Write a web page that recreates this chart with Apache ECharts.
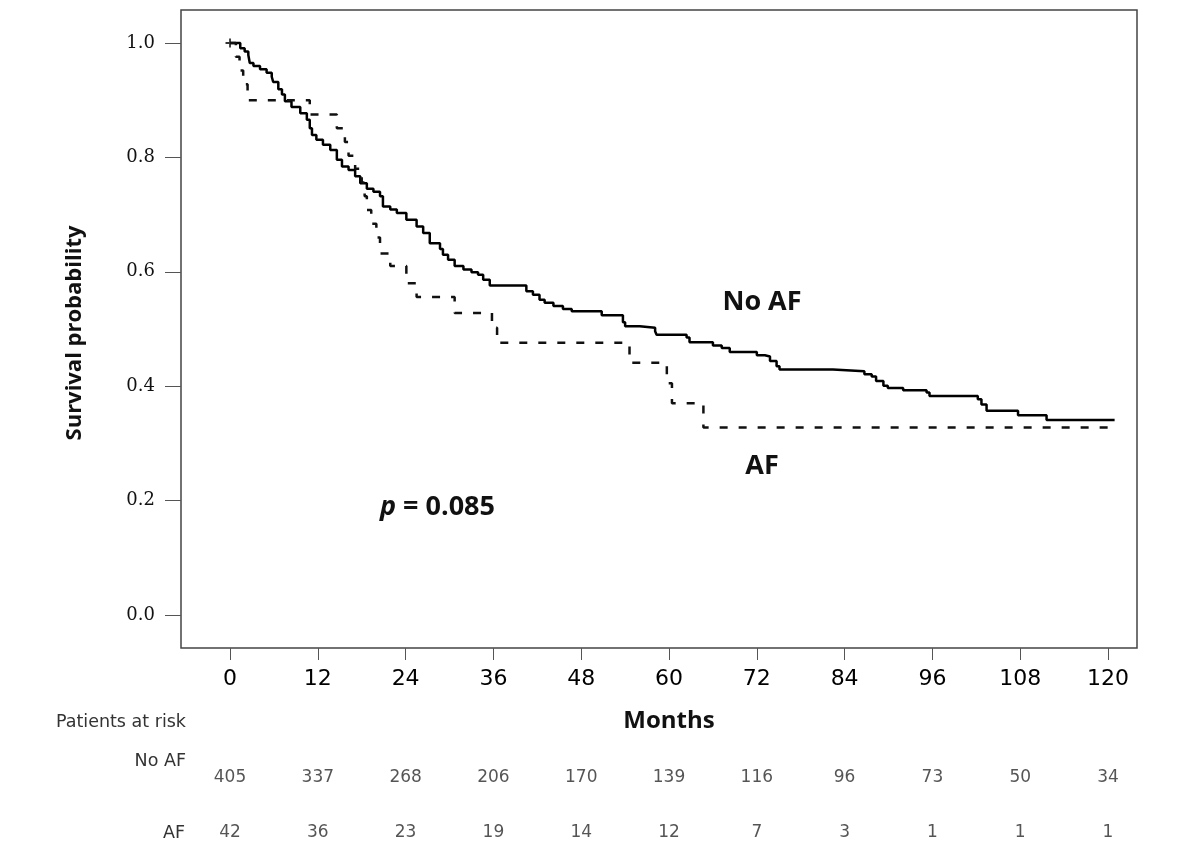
<!DOCTYPE html>
<html>
<head>
<meta charset="utf-8">
<script src="https://cdn.jsdelivr.net/npm/echarts@6/dist/echarts.min.js"></script>
<style>
  html, body { margin: 0; background: #fff; }
  #chart { width: 1200px; height: 848px; }
</style>
</head>
<body>
<div id="chart"></div>
<script>
// Kaplan-Meier steps: month of each drop, survival after it
const noAfMonths = [0, 1.4, 2.0, 2.5, 2.7, 3.2, 4.1, 5.0, 5.7, 5.9, 6.6, 7.1, 7.5, 8.4, 9.6, 10.5, 10.9, 11.2, 11.8, 12.7,
  13.7, 14.6, 15.3, 16.2, 17.1, 17.8, 18.7, 19.6, 20.5, 20.9, 21.9, 22.8, 24.1, 25.5, 26.4, 27.3, 28.7, 29.1, 29.8, 30.7,
  31.9, 33.0, 33.9, 34.6, 35.5, 40.5, 41.4, 42.3, 43.0, 44.2, 45.5, 46.7, 50.8, 53.7, 54.0, 56.0, 58.1, 58.3, 62.4, 62.8,
  66.0, 67.2, 68.3, 72.0, 73.1, 73.8, 74.7, 75.1, 82.4, 86.7, 87.7, 88.3, 89.3, 89.9, 92.0, 95.2, 95.6, 102.2, 102.7, 103.4,
  107.7, 111.6, 120.9];
const noAfSurvival = [1.0, 0.991, 0.985, 0.979, 0.965, 0.960, 0.954, 0.948, 0.941, 0.932, 0.919, 0.910, 0.898, 0.888, 0.877, 0.866, 0.851, 0.839, 0.831, 0.822,
  0.813, 0.796, 0.784, 0.778, 0.767, 0.755, 0.745, 0.740, 0.732, 0.714, 0.709, 0.703, 0.691, 0.679, 0.668, 0.650, 0.640, 0.630, 0.621, 0.610,
  0.604, 0.599, 0.595, 0.586, 0.576, 0.566, 0.560, 0.551, 0.546, 0.540, 0.535, 0.531, 0.524, 0.512, 0.505, 0.502, 0.496, 0.490, 0.485, 0.477,
  0.471, 0.467, 0.460, 0.454, 0.452, 0.444, 0.435, 0.429, 0.426, 0.421, 0.417, 0.409, 0.401, 0.397, 0.393, 0.389, 0.383, 0.377, 0.368, 0.357,
  0.349, 0.341, 0.341];

const afMonths = [0, 0.8, 1.3, 1.8, 2.4, 10.9, 14.6, 15.7, 16.2, 17.1, 18.0, 18.4, 18.7, 19.3, 20.0, 20.5, 21.9, 24.1, 25.5,
  30.7, 35.8, 36.5, 54.6, 59.7, 60.4, 64.7, 120.0];
const afSurvival = [1.0, 0.976, 0.952, 0.928, 0.900, 0.875, 0.851, 0.827, 0.803, 0.780, 0.756, 0.732, 0.708, 0.684, 0.660, 0.632, 0.610, 0.580, 0.556,
  0.528, 0.502, 0.476, 0.441, 0.405, 0.370, 0.328, 0.328];

// censor mark visible at the start of the curves
const censorMonths = [0];
const censorSurvival = [1.0];

const monthTicks = [0, 12, 24, 36, 48, 60, 72, 84, 96, 108, 120];
const survivalTicks = [0, 0.2, 0.4, 0.6, 0.8, 1.0];
const atRiskNoAf = [405, 337, 268, 206, 170, 139, 116, 96, 73, 50, 34];
const atRiskAf = [42, 36, 23, 19, 14, 12, 7, 3, 1, 1, 1];

const pairs = (xs, ys) => xs.map((x, i) => [x, ys[i]]);
const riskRow = (counts, row) => monthTicks.map((m, i) => [m, row, counts[i]]);

const xMin = -6.7, xMax = 123.96;
const boldFont = 'Open Sans';
const tableFont = 'DejaVu Sans';

const chart = echarts.init(document.getElementById('chart'));

const riskLabel = {
  show: true,
  position: 'inside',
  formatter: p => p.value[2],
  fontFamily: tableFont,
  fontSize: 17,
  color: '#2a2a2a'
};

chart.setOption({
  animation: false,
  grid: [
    { left: 181, top: 10, width: 956, height: 638, show: true, borderColor: '#444', borderWidth: 1.5 },
    { left: 181, top: 778, width: 956, height: 55 }
  ],
  xAxis: [
    {
      type: 'value', gridIndex: 0, min: xMin, max: xMax,
      axisLine: { show: false, onZero: false },
      splitLine: { show: false },
      axisTick: { show: true, length: 12, customValues: monthTicks, lineStyle: { color: '#555' } },
      axisLabel: { customValues: monthTicks, margin: 20, fontFamily: tableFont, fontSize: 22, color: '#000' }
    },
    { type: 'value', gridIndex: 1, min: xMin, max: xMax, show: false }
  ],
  yAxis: [
    {
      type: 'value', gridIndex: 0, min: -0.0577, max: 1.0577,
      axisLine: { show: false, onZero: false },
      splitLine: { show: false },
      axisTick: { show: true, length: 16, customValues: survivalTicks, lineStyle: { color: '#555' } },
      axisLabel: {
        customValues: survivalTicks, margin: 26,
        formatter: v => v.toFixed(1),
        fontFamily: 'DejaVu Serif', fontSize: 18, color: '#111'
      }
    },
    { type: 'value', gridIndex: 1, min: 0, max: 1, show: false }
  ],
  series: [
    {
      name: 'No AF', type: 'line', step: 'end', showSymbol: false,
      xAxisIndex: 0, yAxisIndex: 0,
      lineStyle: { color: '#000', width: 2.5 },
      data: pairs(noAfMonths, noAfSurvival)
    },
    {
      name: 'AF', type: 'line', step: 'end', showSymbol: false,
      xAxisIndex: 0, yAxisIndex: 0,
      lineStyle: { color: '#111', width: 2.5, type: [8, 11] },
      data: pairs(afMonths, afSurvival)
    },
    {
      name: 'Censored', type: 'scatter', xAxisIndex: 0, yAxisIndex: 0,
      symbol: 'path://M4,0H6V4H10V6H6V10H4V6H0V4H4Z', symbolSize: 9,
      itemStyle: { color: '#000' },
      data: pairs(censorMonths, censorSurvival)
    },
    {
      name: 'At risk No AF', type: 'scatter', xAxisIndex: 1, yAxisIndex: 1,
      symbolSize: 1, itemStyle: { color: 'rgba(0,0,0,0)' }, label: riskLabel,
      data: riskRow(atRiskNoAf, 1)
    },
    {
      name: 'At risk AF', type: 'scatter', xAxisIndex: 1, yAxisIndex: 1,
      symbolSize: 1, itemStyle: { color: 'rgba(0,0,0,0)' }, label: riskLabel,
      data: riskRow(atRiskAf, 0)
    }
  ],
  graphic: [
    {
      type: 'text', x: 75, y: 333, rotation: Math.PI / 2,
      style: { text: 'Survival probability', fontFamily: boldFont, fontWeight: 'bold', fontSize: 22, fill: '#111', align: 'center', verticalAlign: 'middle' }
    },
    {
      type: 'text', x: 669, y: 721,
      style: { text: 'Months', fontFamily: boldFont, fontWeight: 'bold', fontSize: 24, fill: '#111', align: 'center', verticalAlign: 'middle' }
    },
    {
      type: 'text', x: 762, y: 302,
      style: { text: 'No AF', fontFamily: boldFont, fontWeight: 'bold', fontSize: 27, fill: '#111', align: 'center', verticalAlign: 'middle' }
    },
    {
      type: 'text', x: 762, y: 466,
      style: { text: 'AF', fontFamily: boldFont, fontWeight: 'bold', fontSize: 27, fill: '#111', align: 'center', verticalAlign: 'middle' }
    },
    {
      type: 'text', x: 380, y: 507,
      style: {
        text: '{i|p} = 0.085', fontFamily: boldFont, fontWeight: 'bold', fontSize: 27, fill: '#111', align: 'left', verticalAlign: 'middle',
        rich: { i: { fontFamily: boldFont, fontWeight: 'bold', fontStyle: 'italic', fontSize: 27, fill: '#111' } }
      }
    },
    {
      type: 'text', x: 186, y: 722,
      style: { text: 'Patients at risk', fontFamily: tableFont, fontSize: 17.5, fill: '#333', align: 'right', verticalAlign: 'middle' }
    },
    {
      type: 'text', x: 186, y: 761,
      style: { text: 'No AF', fontFamily: tableFont, fontSize: 17.5, fill: '#333', align: 'right', verticalAlign: 'middle' }
    },
    {
      type: 'text', x: 185, y: 833,
      style: { text: 'AF', fontFamily: tableFont, fontSize: 17.5, fill: '#333', align: 'right', verticalAlign: 'middle' }
    }
  ]
});
</script>
</body>
</html>
